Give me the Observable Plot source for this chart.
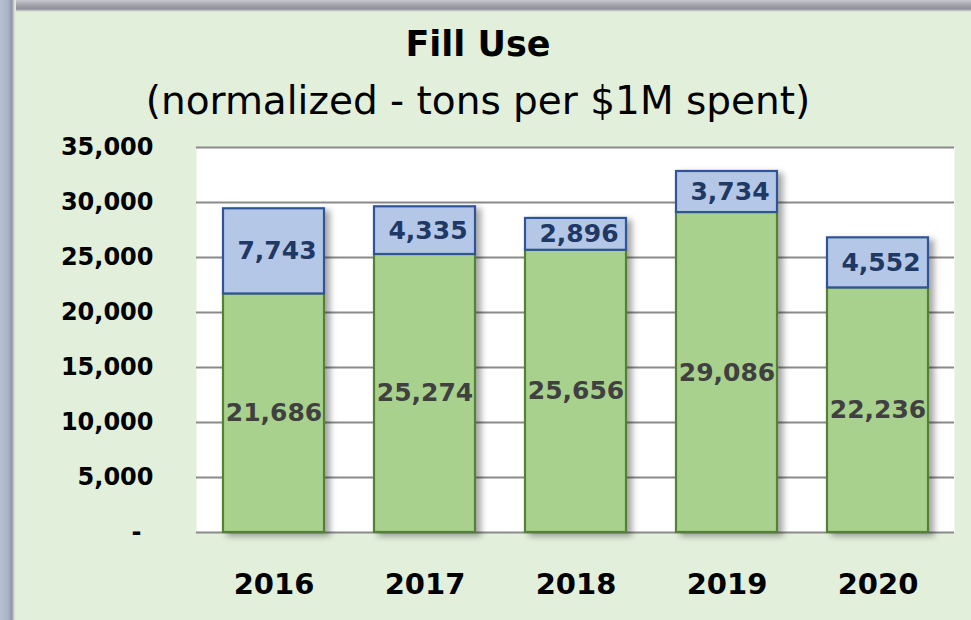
<!DOCTYPE html>
<html>
<head>
<meta charset="utf-8">
<script src="https://cdn.jsdelivr.net/npm/d3@7"></script>
<script src="https://cdn.jsdelivr.net/npm/@observablehq/plot@0.6"></script>
<style>
  html, body { margin: 0; padding: 0; background: #E2EFDA; }
  #wrap { position: relative; width: 971px; height: 620px; overflow: hidden; background: #E2EFDA; font-family: "DejaVu Sans", sans-serif; }
  #topband { position: absolute; left: 0; top: 0; width: 971px; height: 12px;
    background: linear-gradient(to bottom, #c9c9ce 0px, #a9a9b0 4px, #8f8f97 9px, #cfd3cf 11px, #E2EFDA 12px); }
  #leftband { position: absolute; left: 0; top: 0; width: 16px; height: 620px;
    background: linear-gradient(to right, #b9c0cf 0px, #a9b3c7 8px, #8d94a3 12px, #d4dad4 14px, #E2EFDA 16px); }
  .title { position: absolute; left: 0; width: 956px; text-align: center; color: #000; white-space: nowrap; }
  #t1 { top: 27px; font-size: 35px; line-height: 35px; font-weight: bold; }
  #t2 { top: 81px; font-size: 39px; line-height: 39px; }
  #chart { position: absolute; left: 0; top: 130px; }
</style>
</head>
<body>
<div id="wrap">
  <div id="topband"></div>
  <div id="leftband"></div>
  <div class="title" id="t1">Fill Use</div>
  <div class="title" id="t2">(normalized - tons per $1M spent)</div>
  <div id="chart"></div>
</div>
<script>
const years = ["2016", "2017", "2018", "2019", "2020"];
const baseValues = [21686, 25274, 25656, 29086, 22236];
const topValues = [7743, 4335, 2896, 3734, 4552];
const yTicks = [0, 5000, 10000, 15000, 20000, 25000, 30000, 35000];

const GREEN = "#A9D18E", GREEN_STROKE = "#548235";
const BLUE = "#B4C7E7", BLUE_STROKE = "#2F5597";

const rows = [
  ...years.map((y, i) => ({year: y, series: "base", value: baseValues[i]})),
  ...years.map((y, i) => ({year: y, series: "top", value: topValues[i]}))
];

const fmt = d3.format(",");

const chart = Plot.plot({
  width: 971,
  height: 490,
  marginLeft: 196,
  marginRight: 17,
  marginTop: 17,
  marginBottom: 88,
  style: {background: "transparent", fontFamily: "DejaVu Sans, sans-serif"},
  x: {domain: years, paddingInner: 0.334, paddingOuter: 0.167, label: null},
  y: {domain: [0, 35000], label: null},
  color: {type: "identity"},
  marks: [
    Plot.frame({fill: "white", stroke: null}),
    Plot.gridY(yTicks, {stroke: "#8a8a8a", strokeOpacity: 1, strokeWidth: 2}),
    Plot.barY(rows, Plot.stackY({
      x: "year", y: "value",
      fill: d => d.series === "base" ? GREEN : BLUE,
      stroke: d => d.series === "base" ? GREEN_STROKE : BLUE_STROKE,
      strokeWidth: 2.2
    })),
    Plot.text(rows, Plot.stackY({
      x: "year", y: "value",
      text: d => d.series === "base" ? fmt(d.value) : null,
      fill: "#404040",
      fontSize: 25, fontWeight: "bold"
    })),
    Plot.text(rows, Plot.stackY({
      x: "year", y: "value",
      text: d => d.series === "top" ? fmt(d.value) : null,
      fill: "#1F3864", dx: 3,
      fontSize: 25, fontWeight: "bold"
    })),
    Plot.axisY(yTicks, {
      tickSize: 0, tickPadding: 43,
      tickFormat: d => d === 0 ? "-\u2002" : fmt(d),
      fontSize: 24, fontWeight: "bold", fill: "#000", label: null
    }),
    Plot.axisX({
      tickSize: 0, tickPadding: 41,
      fontSize: 29, fontWeight: "bold", fill: "#000", label: null
    })
  ]
});

chart.querySelectorAll('g[aria-label="bar"]').forEach(g => {
  g.style.filter = "drop-shadow(5px 3px 3px rgba(0,0,0,0.35))";
});

document.getElementById("chart").appendChild(chart);
</script>
</body>
</html>
